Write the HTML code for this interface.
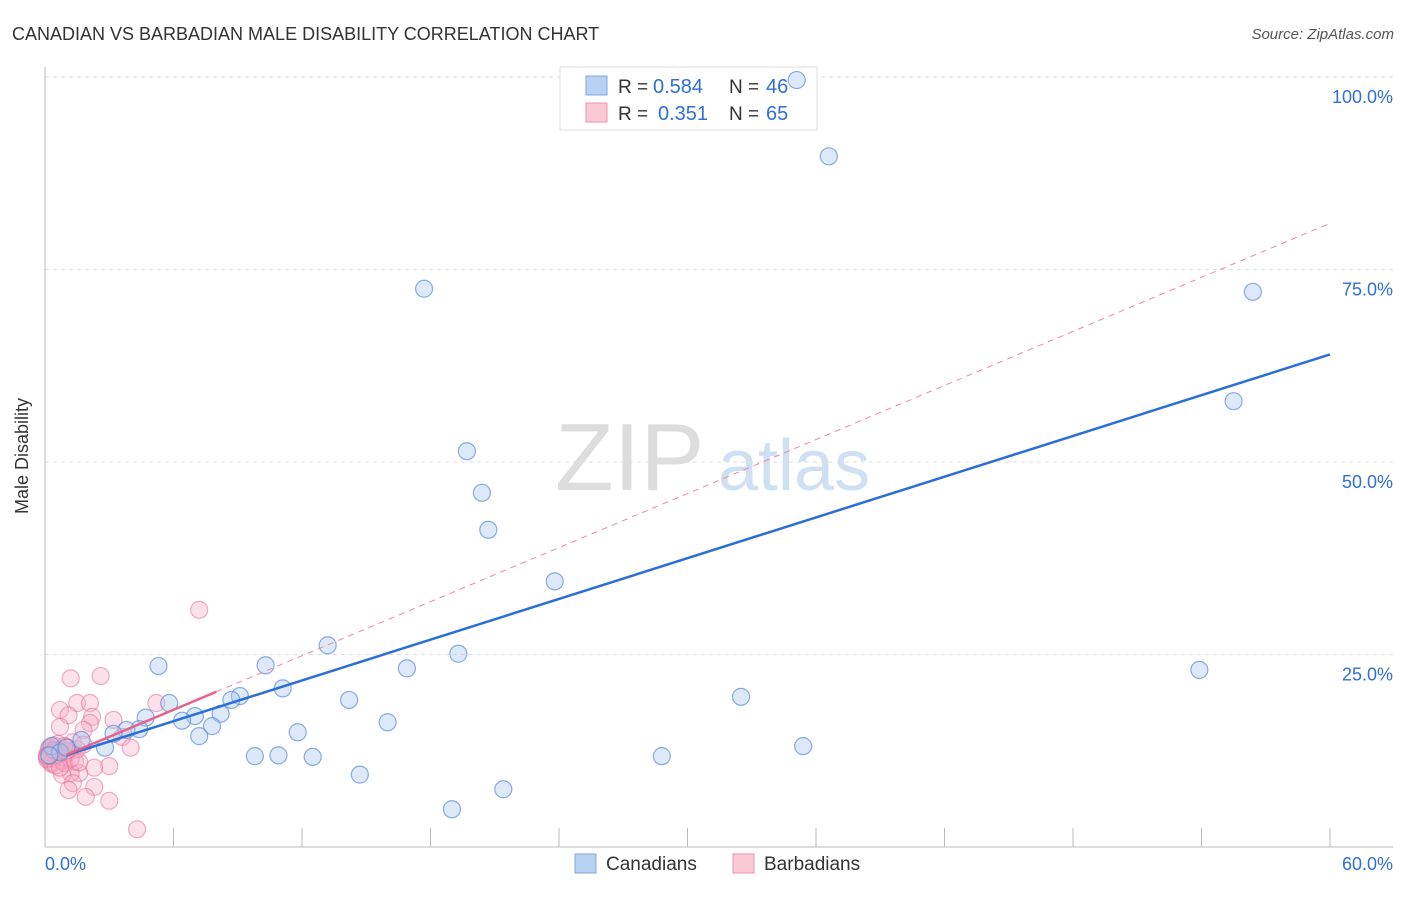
<!DOCTYPE html>
<html><head><meta charset="utf-8"><style>
body{margin:0;background:#fff;font-family:"Liberation Sans",sans-serif}
svg text{font-family:"Liberation Sans",sans-serif}
</style></head><body>
<svg id="c" width="1406" height="892" xmlns="http://www.w3.org/2000/svg">
<text x="12" y="40" font-size="18" fill="#333">CANADIAN VS BARBADIAN MALE DISABILITY CORRELATION CHART</text>
<text x="1394" y="39" font-size="15" fill="#555" font-style="italic" text-anchor="end">Source: ZipAtlas.com</text>
<text x="28" y="456" font-size="18" fill="#333" transform="rotate(-90 28 456)" text-anchor="middle">Male Disability</text>
<g id="wm"><text x="555" y="490" font-size="96" fill="#ddd" font-family="Liberation Serif,serif">ZIP</text><text x="718" y="490" font-size="72" fill="#cfe0f3">atlas</text></g>
<g id="grid"></g>
<g>
<rect x="560" y="67" width="257" height="63" fill="#fff" stroke="#ddd"/>
<rect x="586" y="76" width="21" height="19" fill="#b8d2f3" stroke="#7fa8e0"/>
<rect x="586" y="103" width="21" height="19" fill="#fbc8d6" stroke="#ee93ad"/>
<text x="618" y="93" font-size="19" fill="#333">R =</text><text x="653" y="93" font-size="20" fill="#2f6fd6">0.584</text>
<text x="729" y="93" font-size="19" fill="#333">N =</text><text x="766" y="93" font-size="20" fill="#2f6fd6">46</text>
<text x="618" y="120" font-size="19" fill="#333">R =</text><text x="658" y="120" font-size="20" fill="#2f6fd6">0.351</text>
<text x="729" y="120" font-size="19" fill="#333">N =</text><text x="766" y="120" font-size="20" fill="#2f6fd6">65</text>
</g>
<g id="pts"></g><g id="lines"></g>
<g>
<rect x="575" y="854" width="21" height="19" fill="#b8d2f3" stroke="#7fa8e0"/>
<text x="606" y="870" font-size="19" fill="#333">Canadians</text>
<rect x="733" y="854" width="21" height="19" fill="#fbc8d6" stroke="#ee93ad"/>
<text x="764" y="870" font-size="19" fill="#333">Barbadians</text>
</g>
</svg>
<script>
const blueX=[35.1,36.6,17.7,56.4,55.5,19.7,20.4,20.7,23.8,13.2,5.3,10.3,19.3,16.9,53.9,32.5,14.2,11.1,9.1,8.7,5.8,8.2,7.0,4.7,6.4,16.0,7.8,4.4,11.8,3.8,7.2,3.2,35.4,1.7,2.8,9.8,10.9,12.5,28.8,14.7,21.4,19.0,0.3,0.7,1.0,0.2];
const blueY=[99.6,89.7,72.5,72.1,57.9,51.4,46.0,41.2,34.5,26.2,23.5,23.6,25.1,23.2,23.0,19.5,19.1,20.6,19.6,19.1,18.7,17.3,17.0,16.8,16.4,16.2,15.7,15.3,14.9,15.2,14.4,14.7,13.1,13.9,12.9,11.8,11.9,11.7,11.8,9.4,7.5,4.9,13.1,12.3,12.9,11.9];
const pinkX=[7.2,1.2,2.6,5.2,0.7,1.5,2.1,1.1,2.2,2.1,3.2,0.7,1.8,3.6,4.0,3.0,2.3,1.6,1.2,0.8,1.3,2.3,1.1,1.9,3.0,4.3,0.1,0.2,0.3,0.4,0.5,0.6,0.2,0.3,0.1,0.4,0.5,0.7,0.8,0.9,1.0,0.3,0.6,0.2,0.1,0.5,0.8,1.1,1.3,1.4,0.9,0.4,0.6,1.5,1.2,0.3,0.7,0.2,1.0,1.6,0.5,0.9,0.1,0.4,1.8];
const pinkY=[30.8,21.9,22.2,18.7,17.8,18.7,18.7,17.1,16.9,16.1,16.5,15.6,15.2,14.3,12.9,10.5,10.3,9.6,9.6,9.4,8.3,7.8,7.4,6.5,6.0,2.3,12.0,11.5,12.5,11.8,12.2,11.3,12.8,11.0,11.6,12.4,11.9,12.6,11.2,12.1,13.0,10.8,13.4,12.9,11.4,10.6,11.7,12.3,13.6,11.1,10.9,13.2,12.0,12.7,11.5,12.2,10.3,11.9,12.5,11.0,12.4,13.1,11.8,12.6,13.3];
const yTicks=[100,75,50,25];
const blueLine={a:11.05,b:0.882,x0:1.0,x1:60};
const pinkLine={a:10.8,b:1.17,x0:1.0,x1:8.0,xd:60};
const sx=v=>45+v/60*1285, sy=v=>847-v*7.7;
const NS="http://www.w3.org/2000/svg";
function mk(t,a,p){const e=document.createElementNS(NS,t);for(const k in a)e.setAttribute(k,a[k]);p.appendChild(e);return e;}
const g=document.getElementById('grid');
yTicks.forEach(t=>{
 const l=mk('line',{x1:45,x2:1393,y1:sy(t),y2:sy(t),stroke:'#ddd','stroke-dasharray':'4,4'},g);
 
 
 const tx=mk('text',{x:1393,y:sy(t)+26,'font-size':18,fill:'#2f6fd6','text-anchor':'end'},g);
 tx.textContent=t.toFixed(1)+'%';
 
 
});
mk('line',{x1:45,x2:45,y1:67,y2:847,stroke:'#bbb'},g);
mk('line',{x1:45,x2:1393,y1:847,y2:847,stroke:'#bbb'},g);
for(let i=0;i<=10;i++){const x=sx(i*6);mk('line',{x1:x,x2:x,y1:828,y2:847,stroke:'#bbb'},g);}
const x0=mk('text',{x:45,y:870,'font-size':18,fill:'#2f6fd6'},g);x0.textContent='0.0%';


const x1=mk('text',{x:1393,y:870,'font-size':18,fill:'#2f6fd6','text-anchor':'end'},g);x1.textContent='60.0%';


const P=document.getElementById('pts');
pinkX.forEach((x,i)=>{const c=mk('circle',{cx:sx(x),cy:sy(pinkY[i]),r:8.5,fill:'rgba(247,170,195,0.35)',stroke:'rgba(230,110,150,0.55)','stroke-width':1.2},P);
 
 });
blueX.forEach((x,i)=>{const c=mk('circle',{cx:sx(x),cy:sy(blueY[i]),r:8.5,fill:'rgba(170,200,240,0.4)',stroke:'rgba(90,140,215,0.7)','stroke-width':1.2},P);
 
 });
const L=document.getElementById('lines');
const pd=mk('line',{x1:sx(pinkLine.x1),y1:sy(pinkLine.a+pinkLine.b*pinkLine.x1),x2:sx(pinkLine.xd),y2:sy(pinkLine.a+pinkLine.b*pinkLine.xd),stroke:'#eb8aa8','stroke-width':1,'stroke-dasharray':'6,5'},L);


const bl=mk('line',{x1:sx(blueLine.x0),y1:sy(blueLine.a+blueLine.b*blueLine.x0),x2:sx(blueLine.x1),y2:sy(blueLine.a+blueLine.b*blueLine.x1),stroke:'#2a6fd8','stroke-width':2.5},L);


const pl=mk('line',{x1:sx(pinkLine.x0),y1:sy(pinkLine.a+pinkLine.b*pinkLine.x0),x2:sx(pinkLine.x1),y2:sy(pinkLine.a+pinkLine.b*pinkLine.x1),stroke:'#e8628c','stroke-width':2.5},L);


</script>
</body></html>
